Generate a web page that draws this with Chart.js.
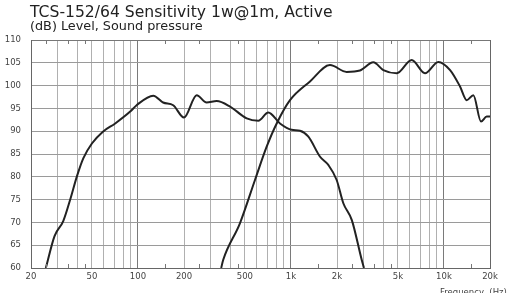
<!DOCTYPE html>
<html lang="en">
<head>
<meta charset="UTF-8">
<title>TCS-152/64 Sensitivity</title>
<script src="https://cdn.jsdelivr.net/npm/chart.js"></script>
<style>
  html, body { margin: 0; padding: 0; background: #fff; }
  #myChart { display: block; width: 508px; height: 293px; }
</style>
</head>
<body>
<canvas id="myChart" width="508" height="293"></canvas>

<script>
    // woofer (low section) response
    const wooferFreq = [25, 28.5, 32.5, 36, 40, 44, 50, 59, 71, 89, 98, 126, 146, 170, 200, 242, 281, 327, 400, 514, 612, 711, 848, 1010, 1146, 1300, 1550, 1755, 1990, 2200, 2500, 2900, 3000];
    const wooferDb = [60, 67, 70.3, 74.9, 80.2, 84.1, 87.3, 89.9, 91.7, 94.3, 95.7, 97.8, 96.3, 95.7, 93.0, 97.9, 96.3, 96.6, 95.4, 92.8, 92.3, 94.1, 91.7, 90.3, 90.1, 88.8, 84.4, 82.6, 79.3, 74.2, 70.5, 61.8, 60];

    // tweeter (high section) response
    const tweeterFreq = [350, 361, 464, 582, 694, 807, 986, 1332, 1800, 2313, 2826, 3455, 4014, 4911, 6155, 7520, 9183, 10970, 12740, 14090, 15570, 17470, 19030, 20000];
    const tweeterDb = [60, 61.8, 69.8, 79.3, 86.6, 91.7, 96.8, 100.9, 104.5, 103.0, 103.3, 105.1, 103.4, 102.7, 105.6, 102.7, 105.2, 103.4, 99.8, 96.8, 97.9, 92.1, 93.2, 93.2];

    // axes
    const xGridValues = [20, 30, 40, 50, 60, 70, 80, 90, 100, 200, 300, 400, 500, 600, 700, 800, 900, 1000,
        2000, 3000, 4000, 5000, 6000, 7000, 8000, 9000, 10000, 20000];
    const xLabelValues = [20, 50, 100, 200, 500, 1000, 2000, 5000, 10000, 20000];
    const xLabelTexts = ['20', '50', '100', '200', '500', '1k', '2k', '5k', '10k', '20k'];
    const minorTicks = [25, 35, 45, 150, 250, 450, 1500, 2500, 3500, 4500, 15000];
    const yMin = 60, yMax = 110, yStep = 5;

    const titleText = 'TCS-152/64 Sensitivity 1w@1m, Active';
    const subtitleText = '(dB) Level, Sound pressure';
    const xAxisText = 'Frequency  (Hz)';

    function toPoints(xs, ys) {
        return xs.map(function (x, i) { return { x: x, y: ys[i] }; });
    }

    const textPlugin = {
        id: 'textPlugin',
        afterDraw: function (chart) {
            const ctx = chart.ctx;
            const xs = chart.scales.x;
            const area = chart.chartArea;
            ctx.save();
            // minor tick marks on top and bottom
            ctx.strokeStyle = '#777';
            ctx.lineWidth = 1;
            minorTicks.forEach(function (v) {
                const px = Math.round(xs.getPixelForValue(v)) + 0.5;
                ctx.beginPath();
                ctx.moveTo(px, area.top);
                ctx.lineTo(px, area.top + 4);
                ctx.moveTo(px, area.bottom);
                ctx.lineTo(px, area.bottom - 4);
                ctx.stroke();
            });
            ctx.fillStyle = '#222';
            ctx.textBaseline = 'alphabetic';
            ctx.textAlign = 'left';
            ctx.font = '15.6px "DejaVu Sans"';
            ctx.fillText(titleText, area.left - 1, 17);
            ctx.font = '12.8px "DejaVu Sans"';
            ctx.fillText(subtitleText, area.left - 1, 30);
            ctx.fillStyle = '#444';
            ctx.font = '8.5px "DejaVu Sans"';
            ctx.fillText(xAxisText, 440, 295);
            ctx.restore();
        }
    };

    function createChart() {
        var ctx = document.getElementById('myChart').getContext('2d');
        var myChart = new Chart(ctx, {
            type: 'line',
            data: {
                datasets: [{
                    label: 'Woofer',
                    data: toPoints(wooferFreq, wooferDb),
                    borderColor: '#222',
                    borderWidth: 2,
                    pointRadius: 0,
                    cubicInterpolationMode: 'monotone',
                    fill: false
                }, {
                    label: 'Tweeter',
                    data: toPoints(tweeterFreq, tweeterDb),
                    borderColor: '#222',
                    borderWidth: 2,
                    pointRadius: 0,
                    cubicInterpolationMode: 'monotone',
                    fill: false
                }]
            },
            options: {
                responsive: false,
                animation: false,
                layout: { padding: { top: 40, left: 0, right: 18, bottom: 0 } },
                plugins: {
                    legend: { display: false },
                    tooltip: { enabled: false }
                },
                scales: {
                    x: {
                        type: 'logarithmic',
                        min: 20,
                        max: 20000,
                        afterBuildTicks: function (scale) {
                            scale.ticks = xGridValues.map(function (v) { return { value: v }; });
                        },
                        afterFit: function (scale) { scale.height = 25; },
                        border: { display: true, color: '#666', width: 1 },
                        grid: {
                            drawTicks: false,
                            lineWidth: 1,
                            color: function (c) {
                                const v = c.tick ? c.tick.value : 0;
                                if (v === 20 || v === 20000) return '#666';
                                if (v === 100 || v === 1000 || v === 10000) return '#7a7a7a';
                                return '#b0b0b0';
                            }
                        },
                        ticks: {
                            autoSkip: false,
                            maxRotation: 0,
                            padding: 4,
                            color: '#444',
                            font: { family: 'DejaVu Sans', size: 8.5 },
                            callback: function (value) {
                                const i = xLabelValues.indexOf(value);
                                return i >= 0 ? xLabelTexts[i] : '';
                            }
                        }
                    },
                    y: {
                        min: yMin,
                        max: yMax,
                        afterFit: function (scale) { scale.width = 31; },
                        border: { display: true, color: '#666', width: 1 },
                        grid: {
                            drawTicks: false,
                            lineWidth: 1,
                            color: function (c) {
                                const v = c.tick ? c.tick.value : 0;
                                return (v === yMin || v === yMax) ? '#777' : '#9a9a9a';
                            }
                        },
                        ticks: {
                            stepSize: yStep,
                            padding: 10,
                            color: '#444',
                            font: { family: 'DejaVu Sans', size: 8.5 }
                        }
                    }
                }
            },
            plugins: [textPlugin]
        });
    }
    createChart();
</script>
</body>
</html>
